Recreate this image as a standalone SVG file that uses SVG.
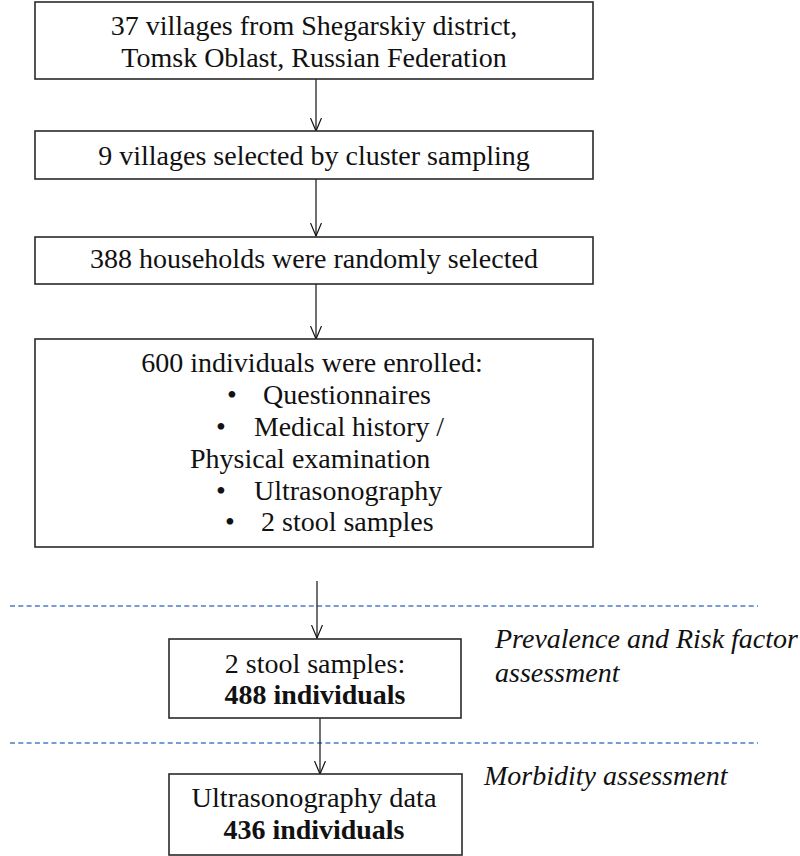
<svg xmlns="http://www.w3.org/2000/svg" width="800" height="856" viewBox="0 0 800 856">
<defs>
<style>
.box{fill:#fff;stroke:#2a2a2a;stroke-width:1.6}
text{font-family:"Liberation Serif",Tinos,"Noto Serif","DejaVu Serif",Georgia,serif;font-size:28px;fill:#111}
.c{text-anchor:middle}
.b{font-weight:bold}
.i{font-style:italic}
.conn{stroke:#111;stroke-width:1.2;fill:none;marker-end:url(#arr)}
.dash{stroke:#4a7ec4;stroke-width:1.6;stroke-dasharray:5 3.3;fill:none}
</style>
<marker id="arr" markerUnits="userSpaceOnUse" viewBox="0 0 14 12" refX="13" refY="6" markerWidth="14" markerHeight="12" orient="auto">
<path d="M0,0.5 L13,6 L0,11.5" fill="none" stroke="#111" stroke-width="1.2"/>
</marker>
</defs>
<rect width="800" height="856" fill="#fff"/>
<g id="separators">
<line class="dash" x1="10" y1="606" x2="758" y2="606"/>
<line class="dash" x1="10" y1="743" x2="758" y2="743"/>
</g>
<g id="connectors">
<line class="conn" x1="316" y1="79" x2="316" y2="131"/>
<line class="conn" x1="316" y1="179" x2="316" y2="236"/>
<line class="conn" x1="316" y1="284" x2="316" y2="339"/>
<line class="conn" x1="317" y1="581" x2="317" y2="638"/>
<line class="conn" x1="320" y1="718" x2="320" y2="774"/>
</g>
<g id="n1">
<rect class="box" x="35" y="2" width="558" height="77"/>
<text class="c" x="314" y="35" font-family="Liberation Serif">37 villages from Shegarskiy district,</text>
<text class="c" x="314" y="67">Tomsk Oblast, Russian Federation</text>
</g>
<g id="n2">
<rect class="box" x="35" y="131" width="558" height="48"/>
<text class="c" x="314" y="165">9 villages selected by cluster sampling</text>
</g>
<g id="n3">
<rect class="box" x="35" y="237" width="558" height="47"/>
<text class="c" x="314" y="268">388 households were randomly selected</text>
</g>
<g id="n4">
<rect class="box" x="35" y="339" width="558" height="208"/>
<text class="c" x="312" y="372">600 individuals were enrolled:</text>
<text class="c" x="232" y="404">•</text>
<text x="263" y="404">Questionnaires</text>
<text class="c" x="221" y="436">•</text>
<text x="254" y="436" textLength="190" lengthAdjust="spacingAndGlyphs">Medical history /</text>
<text x="190" y="468">Physical examination</text>
<text class="c" x="221" y="500">•</text>
<text x="254" y="500">Ultrasonography</text>
<text class="c" x="230" y="531">•</text>
<text x="261" y="531">2 stool samples</text>
</g>
<g id="n5">
<rect class="box" x="169" y="639" width="292" height="79"/>
<text class="c" x="315" y="673">2 stool samples:</text>
<text class="c b" x="315" y="704" textLength="181" lengthAdjust="spacingAndGlyphs">488 individuals</text>
</g>
<g id="n6">
<rect class="box" x="169" y="774" width="293" height="81"/>
<text class="c" x="314" y="807" textLength="245" lengthAdjust="spacingAndGlyphs">Ultrasonography data</text>
<text class="c b" x="314" y="839" textLength="181" lengthAdjust="spacingAndGlyphs">436 individuals</text>
</g>
<g id="labels">
<text class="i" x="495" y="648">Prevalence and Risk factor</text>
<text class="i" x="495" y="682">assessment</text>
<text class="i" x="484" y="785">Morbidity assessment</text>
</g>
</svg>
